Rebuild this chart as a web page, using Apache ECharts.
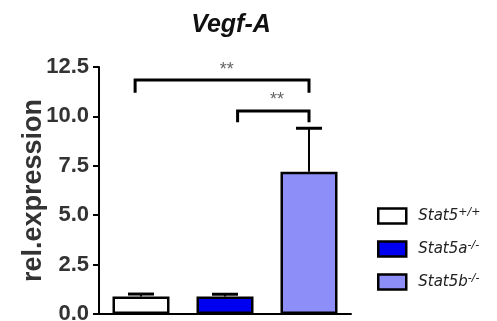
<!DOCTYPE html>
<html><head><meta charset="utf-8">
<script src="https://cdn.jsdelivr.net/npm/echarts@6/dist/echarts.min.js"></script>
<style>html,body{margin:0;padding:0;background:#fff}#c{width:497px;height:321px}</style>
</head><body><div id="c"></div>
<script>
const categories = ['Stat5+/+', 'Stat5a-/-', 'Stat5b-/-'];
const means = [0.88, 0.88, 7.2];
const errors = [0.13, 0.12, 2.2];
const colors = ['#ffffff', '#0000f0', '#8e8ef8'];
const yTicks = [0, 2.5, 5, 7.5, 10, 12.5];
// brackets: [xStart, xEnd, yTop, yLegBottom] in category-index units (0..3)
const brackets = [[0.43, 2.5, 11.84, 11.2], [1.65, 2.5, 10.27, 9.7]];
const stars = [[1.52, 12.35, '**'], [2.12, 10.85, '**']];

const chart = echarts.init(document.getElementById('c'));
const barSeries = categories.map((name, i) => ({
  name: name,
  type: 'bar',
  xAxisIndex: 0,
  barWidth: 57,
  barGap: '-100%',
  data: categories.map((c, j) => j === i ? means[i] : '-'),
  itemStyle: { color: colors[i], borderColor: '#000', borderWidth: 2.5 },
  z: 2
}));

chart.setOption({
  animation: false,
  title: {
    text: 'Vegf-A', left: 226, top: 8, textAlign: 'center',
    textStyle: { fontFamily: 'Liberation Sans', fontStyle: 'italic', fontWeight: 'bold', fontSize: 25, color: '#111' }
  },
  legend: {
    orient: 'vertical', left: 377, top: 207, padding: 0,
    icon: 'rect',
    itemWidth: 28, itemHeight: 15, itemGap: 14,
    itemStyle: { borderColor: '#000', borderWidth: 2.5 },
    data: categories,
    formatter: function (n) {
      const m = n.match(/^(Stat5[ab]?)(.*)$/);
      return '{m|' + m[1] + '}{s|' + m[2] + '}';
    },
    textStyle: {
      padding: [0, 0, 0, 7],
      rich: {
        m: { fontFamily: 'DejaVu Sans', fontStyle: 'italic', fontSize: 15, color: '#222', lineHeight: 18 },
        s: { fontFamily: 'DejaVu Sans', fontStyle: 'italic', fontSize: 11, color: '#222', verticalAlign: 'top', lineHeight: 18, padding: [0, 0, 8, 0] }
      }
    }
  },
  grid: { left: 99, right: 146, top: 67, bottom: 7, containLabel: false, outerBoundsMode: 'none' },
  xAxis: [{
    type: 'category', data: categories,
    axisLine: { lineStyle: { color: '#000', width: 2 } },
    axisTick: { show: false }, axisLabel: { show: false }
  }, {
    type: 'value', min: 0, max: 3, show: false
  }],
  yAxis: {
    type: 'value', min: 0, max: 12.5, interval: 2.5,
    name: 'rel.expression', nameLocation: 'middle', nameGap: 52, nameRotate: 90, nameMoveOverlap: false,
    nameTextStyle: { fontFamily: 'Liberation Sans', fontWeight: 'bold', fontSize: 27, color: '#333' },
    axisLine: { show: true, lineStyle: { color: '#000', width: 2 } },
    axisTick: { show: true, length: 6, lineStyle: { color: '#000', width: 2 } },
    splitLine: { show: false },
    axisLabel: {
      margin: 10, fontFamily: 'Liberation Sans', fontWeight: 'bold', fontSize: 22, color: '#333',
      formatter: v => yTicks.indexOf(v) >= 0 ? v.toFixed(1) : ''
    }
  },
  series: barSeries.concat([{
    type: 'custom', name: 'err', xAxisIndex: 0, z: 3,
    data: means.map((m, i) => [i, m, m + errors[i]]),
    renderItem: function (params, api) {
      const b = api.coord([api.value(0), api.value(1)]);
      const t = api.coord([api.value(0), api.value(2)]);
      return { type: 'group', children: [
        { type: 'line', shape: { x1: b[0], y1: b[1], x2: t[0], y2: t[1] }, style: { stroke: '#000', lineWidth: 2 } },
        { type: 'line', shape: { x1: t[0] - 13, y1: t[1], x2: t[0] + 13, y2: t[1] }, style: { stroke: '#000', lineWidth: 3 } }
      ]};
    }
  }, {
    type: 'custom', name: 'brackets', xAxisIndex: 1, z: 4,
    data: brackets,
    renderItem: function (params, api) {
      const a = api.coord([api.value(0), api.value(2)]);
      const b = api.coord([api.value(1), api.value(2)]);
      const a2 = api.coord([api.value(0), api.value(3)]);
      const b2 = api.coord([api.value(1), api.value(3)]);
      return { type: 'polyline', shape: { points: [a2, a, b, b2] }, style: { stroke: '#000', lineWidth: 3, fill: null } };
    }
  }, {
    type: 'custom', name: 'stars', xAxisIndex: 1, z: 4,
    data: stars,
    renderItem: function (params, api) {
      const p = api.coord([api.value(0), api.value(1)]);
      return { type: 'text', style: { text: stars[params.dataIndex][2], x: p[0], y: p[1], align: 'center', verticalAlign: 'middle', fontSize: 18, fontFamily: 'Liberation Sans', fill: '#666' } };
    }
  }])
});
</script></body></html>
